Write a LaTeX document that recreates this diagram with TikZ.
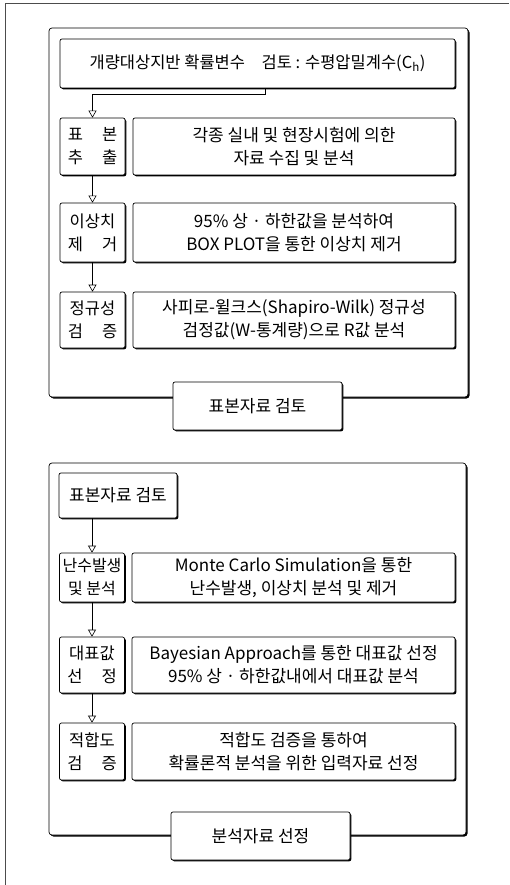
\documentclass[tikz,border=0pt]{standalone}
\usepackage{fontspec}
\setmainfont{Noto Sans CJK KR}
\usetikzlibrary{arrows.meta,shadows}
\newcommand{\spr}[2]{\makebox[3em][s]{#1\hfill#2}}
\tikzset{
  box/.style={draw, line width=0.7pt, rounded corners=2pt, fill=white, inner sep=0pt, align=center,
    font=\fontsize{17}{23}\selectfont,
    drop shadow={shadow xshift=1.3pt, shadow yshift=-1.3pt, fill=black, opacity=1}},
  lbox/.style={box, font=\fontsize{16.5}{23}\selectfont},
  grp/.style={draw, line width=0.7pt, rounded corners=3pt, fill=white,
    drop shadow={shadow xshift=1.5pt, shadow yshift=-1.5pt, fill=black, opacity=1}},
  arr/.style={line width=0.6pt, -{Triangle[open, length=7pt, width=8pt]}},
}
\begin{document}
\begin{tikzpicture}[x=1pt,y=-1pt]
\useasboundingbox (0,0) rectangle (509,885);
% outer frame lines
\draw[line width=0.8pt, black!70] (5,885) -- (5,3) -- (509,3);
% group 1
\draw[grp] (49,28) rectangle (468,397);
\node[box, font=\fontsize{16.5}{23}\selectfont, minimum width=395, minimum height=49] (title) at (257.5,63.5)
  {개량대상지반 확률변수\quad 검토 : 수평압밀계수(C\textsubscript{h})};
\node[lbox, minimum width=65, minimum height=57] (r1L) at (92.5,146.5) {\spr{표}{본}\\\spr{추}{출}};
\node[box, minimum width=322, minimum height=57] (r1R) at (294,146.5) {각종 실내 및 현장시험에 의한\\자료 수집 및 분석};
\node[lbox, minimum width=65, minimum height=59] (r2L) at (92.5,232.5) {이상치\\\spr{제}{거}};
\node[box, minimum width=322, minimum height=59] (r2R) at (294,232.5) {95\% 상 · 하한값을 분석하여\\BOX PLOT을 통한 이상치 제거};
\node[lbox, minimum width=65, minimum height=56] (r3L) at (92.5,320) {정규성\\\spr{검}{증}};
\node[box, minimum width=322, minimum height=56] (r3R) at (294,320) {사피로-윌크스(Shapiro-Wilk) 정규성\\검정값(W-통계량)으로 R값 분석};
\node[box, minimum width=169, minimum height=48] (lab1) at (257.5,406) {표본자료 검토};
\draw[arr] ([xshift=7.5pt]title.south) -- ++(0,6) -| (r1L.north);
\draw[arr] (r1L.south) -- (r2L.north);
\draw[arr] (r2L.south) -- (r3L.north);
% group 2
\draw[grp] (49,463) rectangle (466,835);
\node[box, minimum width=118, minimum height=45] (s0) at (118,495.5) {표본자료 검토};
\node[box, font=\fontsize{16}{23}\selectfont, minimum width=65, minimum height=49] (q1L) at (92,577.5) {난수발생\\및 분석};
\node[box, minimum width=323, minimum height=49] (q1R) at (293.5,577.5) {Monte Carlo Simulation을 통한\\난수발생, 이상치 분석 및 제거};
\node[lbox, minimum width=65, minimum height=56] (q2L) at (92,665) {대표값\\\spr{선}{정}};
\node[box, minimum width=323, minimum height=56] (q2R) at (293.5,665) {Bayesian Approach를 통한 대표값 선정\\95\% 상 · 하한값내에서 대표값 분석};
\node[lbox, minimum width=65, minimum height=57] (q3L) at (92,751.5) {적합도\\\spr{검}{증}};
\node[box, minimum width=323, minimum height=57] (q3R) at (293.5,751.5) {적합도 검증을 통하여\\확률론적 분석을 위한 입력자료 선정};
\node[box, minimum width=179, minimum height=48] (lab2) at (260.5,836) {분석자료 선정};
\draw[arr] (s0.south -| q1L.north) -- (q1L.north);
\draw[arr] (q1L.south) -- (q2L.north);
\draw[arr] (q2L.south) -- (q3L.north);
\end{tikzpicture}
\end{document}
